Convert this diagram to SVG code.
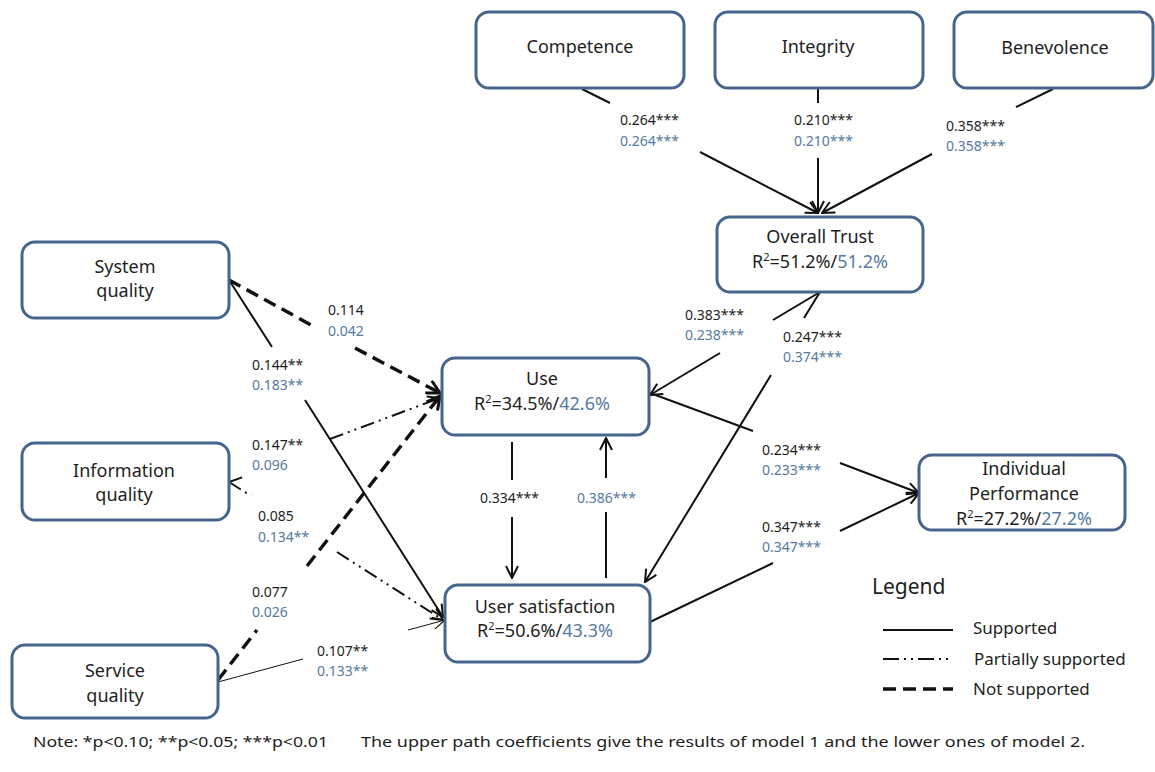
<svg xmlns="http://www.w3.org/2000/svg" width="1155" height="772" viewBox="0 0 1155 772">
<style>
.box{fill:#fff;stroke:#46658c;stroke-width:3}
.lbl{font-family:"Noto Sans","Open Sans",sans-serif;font-size:18px;fill:#1e1e1e;text-anchor:middle}
.b{fill:#557a9e}
.c{font-family:"Noto Sans","Open Sans",sans-serif;font-size:14px;fill:#1e1e1e}
.c2{font-family:"Noto Sans","Open Sans",sans-serif;font-size:14px;fill:#557a9e}
.sup{font-size:11px}
.s{fill:none;stroke:#111;stroke-width:2}
.t{fill:none;stroke:#111;stroke-width:1}
.d{fill:none;stroke:#111;stroke-width:3.5;stroke-dasharray:13 7}
.p{fill:none;stroke:#111;stroke-width:2;stroke-dasharray:14 5 2 5 2 5}
.lg{font-family:"Noto Sans","Open Sans",sans-serif;font-size:17px;fill:#1e1e1e}
.note{font-family:"Noto Sans","Open Sans",sans-serif;font-size:15px;fill:#1e1e1e}
</style>
<defs>
<marker id="ah" markerUnits="userSpaceOnUse" viewBox="0 0 14 14" markerWidth="14" markerHeight="14" refX="13" refY="7" orient="auto">
<path d="M1,1 L13,7 L1,13" fill="none" stroke="#111" stroke-width="2"/>
</marker>
<marker id="ahk" markerUnits="userSpaceOnUse" viewBox="0 0 16 16" markerWidth="16" markerHeight="16" refX="14" refY="8" orient="auto">
<path d="M1,1 L14,8 L1,15" fill="none" stroke="#111" stroke-width="3"/>
</marker>
<marker id="aht" markerUnits="userSpaceOnUse" viewBox="0 0 14 14" markerWidth="14" markerHeight="14" refX="13" refY="7" orient="auto">
<path d="M1,1 L13,7 L1,13" fill="none" stroke="#111" stroke-width="1.2"/>
</marker>
</defs>

<g id="connectors">
<path class="s" d="M582,89 L610,103 M700,152 L818,213" marker-end="url(#ah)"/>
<path class="s" d="M818,89 L818,103 M818,158 L818,213" marker-end="url(#ah)"/>
<path class="s" d="M1053,89 L1016,107 M932,154 L822,213" marker-end="url(#ah)"/>
<path class="d" d="M229,280 L313,326 M355,348 L440,393" marker-end="url(#ahk)"/>
<path class="s" d="M229,280 L272,347 M305,400 L443,617" marker-end="url(#ah)"/>
<path class="p" d="M229,482 L246,476 M330,439 L440,398" marker-end="url(#ah)"/>
<path class="p" d="M229,482 L251,496 M337,552 L443,620" marker-end="url(#ah)"/>
<path class="d" d="M218,680 L257,630 M307,566 L440,396" marker-end="url(#ahk)"/>
<path class="t" d="M218,682 L303,659 M408,630 L445,620" marker-end="url(#aht)"/>
<path class="s" d="M512,442 L512,480 M512,517 L512,578" marker-end="url(#ah)"/>
<path class="s" d="M606,578 L606,512 M606,478 L606,438" marker-end="url(#ah)"/>
<path class="s" d="M820,292 L773,320 M720,353 L650,395" marker-end="url(#ah)"/>
<path class="s" d="M820,292 L804,318 M771,375 L645,582" marker-end="url(#ah)"/>
<path class="s" d="M650,393 L753,431 M840,463 L919,493" marker-end="url(#ah)"/>
<path class="s" d="M650,622 L773,563 M840,531 L919,493" marker-end="url(#ah)"/>
</g>

<g id="node-competence">
<rect class="box" x="476" y="12" width="208" height="76" rx="13"/>
<text class="lbl" x="580" y="53">Competence</text>
</g>
<g id="node-integrity">
<rect class="box" x="715" y="12" width="208" height="76" rx="13"/>
<text class="lbl" x="818" y="53">Integrity</text>
</g>
<g id="node-benevolence">
<rect class="box" x="954" y="12" width="199" height="76" rx="13"/>
<text class="lbl" x="1055" y="54">Benevolence</text>
</g>
<g id="node-trust">
<rect class="box" x="717" y="217" width="206" height="75" rx="13"/>
<text class="lbl" x="820" y="243">Overall Trust</text>
<text class="lbl" x="820" y="268">R<tspan class="sup" dy="-7">2</tspan><tspan dy="7">=51.2%/</tspan><tspan class="b">51.2%</tspan></text>
</g>
<g id="node-system">
<rect class="box" x="22" y="242" width="207" height="76" rx="13"/>
<text class="lbl" x="125" y="273">System</text>
<text class="lbl" x="125" y="297">quality</text>
</g>
<g id="node-information">
<rect class="box" x="22" y="443" width="207" height="77" rx="13"/>
<text class="lbl" x="124" y="477">Information</text>
<text class="lbl" x="124" y="501">quality</text>
</g>
<g id="node-service">
<rect class="box" x="12" y="645" width="206" height="73" rx="13"/>
<text class="lbl" x="115" y="677">Service</text>
<text class="lbl" x="115" y="702">quality</text>
</g>
<g id="node-use">
<rect class="box" x="442" y="358" width="207" height="77" rx="13"/>
<text class="lbl" x="542" y="385">Use</text>
<text class="lbl" x="542" y="410">R<tspan class="sup" dy="-7">2</tspan><tspan dy="7">=34.5%/</tspan><tspan class="b">42.6%</tspan></text>
</g>
<g id="node-usersat">
<rect class="box" x="445" y="585" width="205" height="77" rx="13"/>
<text class="lbl" x="545" y="613">User satisfaction</text>
<text class="lbl" x="545" y="637">R<tspan class="sup" dy="-7">2</tspan><tspan dy="7">=50.6%/</tspan><tspan class="b">43.3%</tspan></text>
</g>
<g id="node-performance">
<rect class="box" x="919" y="455" width="206" height="75" rx="13"/>
<text class="lbl" x="1024" y="475">Individual</text>
<text class="lbl" x="1024" y="500">Performance</text>
<text class="lbl" x="1024" y="525">R<tspan class="sup" dy="-7">2</tspan><tspan dy="7">=27.2%/</tspan><tspan class="b">27.2%</tspan></text>
</g>

<g id="coefficients">
<text class="c" x="620" y="125">0.264***</text><text class="c2" x="620" y="146">0.264***</text>
<text class="c" x="794" y="125">0.210***</text><text class="c2" x="794" y="146">0.210***</text>
<text class="c" x="946" y="131">0.358***</text><text class="c2" x="946" y="151">0.358***</text>
<text class="c" x="328" y="315">0.114</text><text class="c2" x="328" y="336">0.042</text>
<text class="c" x="252" y="370">0.144**</text><text class="c2" x="252" y="390">0.183**</text>
<text class="c" x="252" y="450">0.147**</text><text class="c2" x="252" y="470">0.096</text>
<text class="c" x="258" y="521">0.085</text><text class="c2" x="258" y="542">0.134**</text>
<text class="c" x="252" y="597">0.077</text><text class="c2" x="252" y="617">0.026</text>
<text class="c" x="317" y="656">0.107**</text><text class="c2" x="317" y="676">0.133**</text>
<text class="c" x="480" y="503">0.334***</text>
<text class="c2" x="577" y="503">0.386***</text>
<text class="c" x="685" y="320">0.383***</text><text class="c2" x="685" y="340">0.238***</text>
<text class="c" x="783" y="342">0.247***</text><text class="c2" x="783" y="362">0.374***</text>
<text class="c" x="762" y="455">0.234***</text><text class="c2" x="762" y="475">0.233***</text>
<text class="c" x="762" y="532">0.347***</text><text class="c2" x="762" y="552">0.347***</text>
</g>

<g id="legend">
<text class="lg" x="872" y="594" style="font-size:21px">Legend</text>
<line x1="883" y1="630" x2="953" y2="630" stroke="#111" stroke-width="2"/>
<line x1="883" y1="659" x2="953" y2="659" stroke="#111" stroke-width="2" stroke-dasharray="16 5 2 5 2 5"/>
<line x1="883" y1="689" x2="953" y2="689" stroke="#111" stroke-width="3.5" stroke-dasharray="13 7"/>
<text class="lg" x="973" y="634">Supported</text>
<text class="lg" x="974" y="665">Partially supported</text>
<text class="lg" x="973" y="695">Not supported</text>
</g>

<g id="note">
<text class="note" x="33" y="747" textLength="295" lengthAdjust="spacingAndGlyphs">Note: *p&lt;0.10; **p&lt;0.05; ***p&lt;0.01</text>
<text class="note" x="361" y="747" textLength="724" lengthAdjust="spacingAndGlyphs">The upper path coefficients give the results of model 1 and the lower ones of model 2.</text>
</g>
</svg>
